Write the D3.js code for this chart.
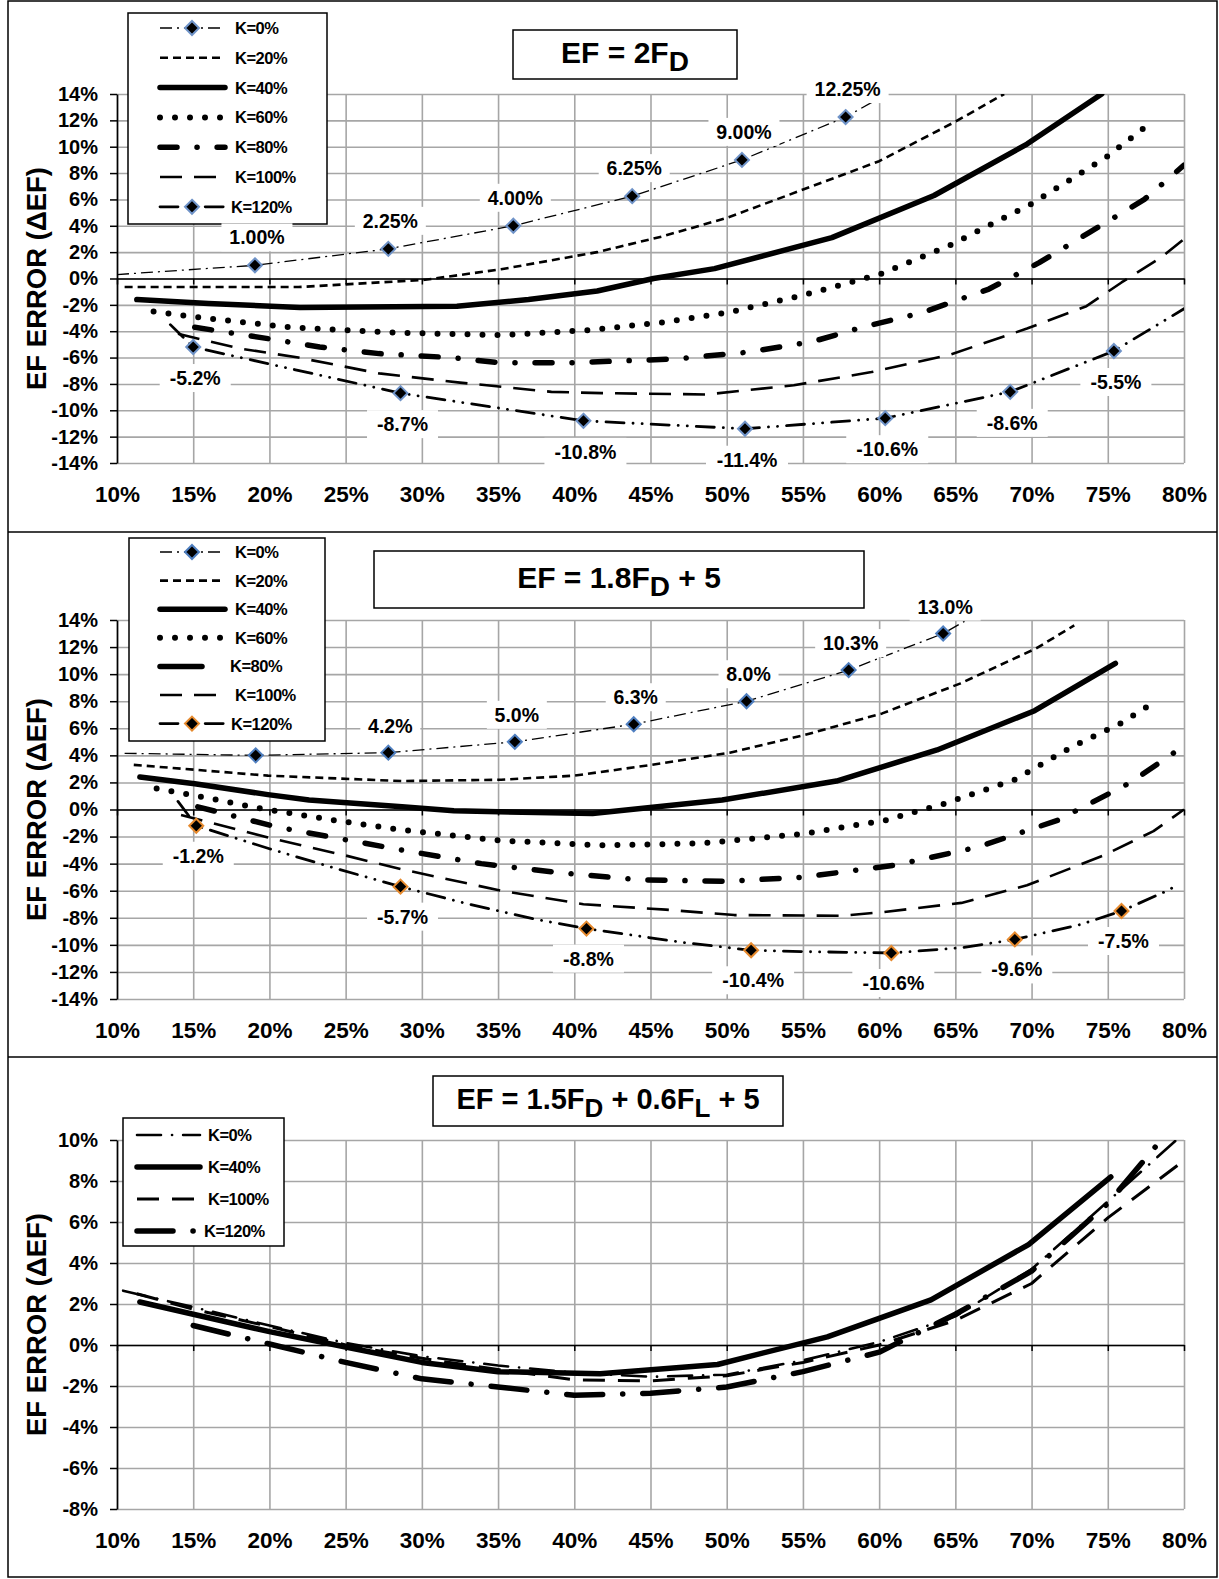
<!DOCTYPE html>
<html><head><meta charset="utf-8">
<script src="https://cdn.jsdelivr.net/npm/d3@7"></script>
<style>body{margin:0;background:#fff}svg{display:block}</style>
</head><body>
<svg id="chart" width="1219" height="1579"></svg>
<script>
// ---------- tick values ----------
const xTickValues = [10,15,20,25,30,35,40,45,50,55,60,65,70,75,80];
const yTicksWide = [-14,-12,-10,-8,-6,-4,-2,0,2,4,6,8,10,12,14];
const yTicksNarrow = [-8,-6,-4,-2,0,2,4,6,8,10];

// ---------- Panel 1: EF = 2FD ----------
const p1K0   = [[10,0.3],[19.05,1.00],[27.8,2.25],[36.0,4.00],[43.8,6.25],[51.0,9.00],[57.8,12.25],[60.5,14.0]];
const p1K0Marks  = [[19.05,1.00],[27.8,2.25],[36.0,4.00],[43.8,6.25],[51.0,9.00],[57.8,12.25]];
const p1K0Labels = ["1.00%","2.25%","4.00%","6.25%","9.00%","12.25%"];
const p1K20  = [[10.5,-0.65],[16,-0.65],[21.9,-0.65],[30.2,-0.1],[35.2,0.7],[41.5,2.0],[45.8,3.2],[50,4.6],[54.9,6.7],[60,8.9],[65,11.9],[68.2,14.0]];
const p1K40  = [[11.3,-1.6],[16,-1.9],[22,-2.2],[32.3,-2.1],[37,-1.6],[41.5,-0.95],[45.2,0],[49.2,0.75],[56.9,3.1],[63.6,6.3],[69.7,10.2],[74.6,14.0]];
const p1K60  = [[12.4,-2.5],[15,-2.9],[21.3,-3.7],[28,-4.1],[35.2,-4.3],[41.2,-3.9],[46,-3.3],[50,-2.6],[54.9,-1.3],[60,0.3],[64.6,2.5],[69.9,5.6],[74.9,9.2],[77.9,11.9]];
const p1K80  = [[15.1,-3.7],[20.1,-4.6],[23.3,-5.2],[27.2,-5.7],[31.9,-6.0],[35.2,-6.4],[39.6,-6.4],[46.7,-6.1],[51.3,-5.6],[55.6,-4.8],[58.9,-3.7],[62.8,-2.6],[67.2,-0.8],[70.5,1.2],[73.8,3.5],[77.4,6.0],[80,8.6]];
const p1K100 = [[14,-4.2],[18,-5.3],[21.9,-6.0],[27.2,-7.2],[32.5,-7.9],[38.5,-8.6],[41.8,-8.7],[48.7,-8.8],[54.4,-8.1],[59.5,-7.1],[64.6,-5.8],[69.7,-3.8],[73.6,-2.1],[75.9,-0.3],[78.5,1.6],[80,3.0]];
const p1K120 = [[13.5,-3.5],[15,-5.2],[28.6,-8.7],[40.6,-10.8],[51.2,-11.4],[60.4,-10.6],[68.6,-8.6],[75.4,-5.5],[80,-2.3]];
const p1K120Marks  = [[15,-5.2],[28.6,-8.7],[40.6,-10.8],[51.2,-11.4],[60.4,-10.6],[68.6,-8.6],[75.4,-5.5]];
const p1K120Labels = ["-5.2%","-8.7%","-10.8%","-11.4%","-10.6%","-8.6%","-5.5%"];

// ---------- Panel 2: EF = 1.8FD + 5 ----------
const p2K0   = [[10.5,4.15],[19.1,4.0],[27.8,4.2],[36.1,5.0],[43.9,6.3],[51.3,8.0],[58.0,10.3],[64.2,13.0],[65.6,13.9]];
const p2K0Marks  = [[19.1,4.0],[27.8,4.2],[36.1,5.0],[43.9,6.3],[51.3,8.0],[58.0,10.3],[64.2,13.0]];
const p2K0Labels = ["","4.2%","5.0%","6.3%","8.0%","10.3%","13.0%"];
const p2K20  = [[11.1,3.3],[19.9,2.5],[28.7,2.1],[35.2,2.2],[40,2.5],[45.1,3.3],[50.2,4.2],[55.1,5.5],[60.2,7.1],[65.3,9.3],[70.3,11.9],[72.8,13.6]];
const p2K40  = [[11.5,2.4],[15.1,1.9],[19.9,1.1],[22.6,0.7],[28.7,0.2],[32.1,-0.1],[41.2,-0.3],[49.7,0.7],[57.2,2.1],[63.8,4.4],[70.2,7.3],[75.5,10.8]];
const p2K60  = [[12.6,1.55],[15.5,0.95],[19.3,0.1],[24.3,-0.8],[28.6,-1.5],[35.2,-2.3],[41.8,-2.65],[48.4,-2.5],[55,-1.8],[60.4,-0.8],[64.2,0.4],[68.9,2.2],[72.6,4.6],[75.9,6.4],[78.3,8.1]];
const p2K80  = [[15.3,0.2],[20.5,-1.3],[28.7,-3.0],[33.9,-4.0],[39.3,-4.7],[44.3,-5.2],[50,-5.3],[55,-5.0],[61.1,-4.1],[66.4,-2.8],[71.7,-0.8],[76.5,2.0],[80,4.7]];
const p2K100 = [[14.2,-0.4],[20,-2.1],[25,-3.4],[28.6,-4.4],[35.2,-6.0],[40.6,-7.0],[46,-7.4],[50.5,-7.8],[57.5,-7.85],[60.1,-7.6],[65.4,-6.9],[69.7,-5.6],[74.7,-3.4],[78,-1.6],[80,0]];
const p2K120 = [[14.0,0.6],[15.2,-1.2],[20,-2.9],[24.5,-4.4],[28.6,-5.7],[33.1,-7.0],[37.4,-8.1],[40.8,-8.8],[47,-9.8],[51.6,-10.4],[55,-10.5],[60.8,-10.6],[65.5,-10.2],[68.9,-9.6],[73.2,-8.5],[75.9,-7.5],[78.9,-6.0],[79.7,-5.5]];
const p2K120Marks  = [[15.2,-1.2],[28.6,-5.7],[40.8,-8.8],[51.6,-10.4],[60.8,-10.6],[68.9,-9.6],[75.9,-7.5]];
const p2K120Labels = ["-1.2%","-5.7%","-8.8%","-10.4%","-10.6%","-9.6%","-7.5%"];

// ---------- Panel 3: EF = 1.5FD + 0.6FL + 5 ----------
const p3K0   = [[10.4,2.65],[15,1.85],[20,0.95],[25,0.1],[30,-0.55],[35,-1.0],[40,-1.35],[45,-1.55],[50,-1.45],[55,-0.75],[60,0.15],[65,1.4],[70,3.7],[75,7.0],[79.5,10.0]];
const p3K40  = [[11.5,2.1],[15,1.5],[20,0.65],[25,-0.1],[30,-0.85],[35,-1.3],[41.7,-1.4],[49.4,-0.95],[56.6,0.4],[63.4,2.2],[69.8,4.9],[75.2,8.2]];
const p3K100 = [[11.3,2.5],[15,1.75],[20,0.9],[25,0.0],[30,-0.65],[35,-1.2],[40,-1.7],[45,-1.75],[50,-1.5],[55,-0.85],[60,0.0],[65,1.2],[70,3.0],[75,6.2],[80,9.0]];
const p3K120 = [[15,0.95],[20,0.05],[25,-0.85],[30,-1.65],[35,-2.05],[40,-2.45],[45,-2.35],[50,-2.05],[55,-1.3],[60,-0.35],[65,1.5],[70,3.6],[75,6.9],[78.5,10.0]];

// ---------- styles ----------
const FONT = "'Liberation Sans', Arial, Helvetica, sans-serif";
const ST = {
  K0:   {w:1.3, dash:"12,5,2,5", cap:"butt"},
  K20:  {w:2.6, dash:"8,5", cap:"butt"},
  K40:  {w:5.5, dash:null, cap:"round"},
  K60:  {w:6,   dash:"0,15", cap:"round"},
  K80:  {w:5.5, dash:"17,20,0.1,20", cap:"round"},
  K100: {w:2.6, dash:"22,12", cap:"butt"},
  K120: {w:2.8, dash:"18,9,0.1,9,0.1,9", cap:"round"},
  C0:   {w:2.6, dash:"24,11,0.1,11", cap:"round"},
  C40:  {w:5.5, dash:null, cap:"round"},
  C100: {w:3,   dash:"22,13", cap:"butt"},
  C120: {w:5.5, dash:"36,20,0.1,20", cap:"round"}
};

const svg = d3.select("#chart");
svg.append("rect").attr("width",1219).attr("height",1579).attr("fill","#fff");

function diamond(g, cx, cy, stroke) {
  const r = 7;
  g.append("path").attr("d", `M${cx},${cy-r}L${cx+r},${cy}L${cx},${cy+r}L${cx-r},${cy}Z`)
    .attr("fill","#000").attr("stroke",stroke).attr("stroke-width",2);
}

function drawPanel(cfg) {
  const x = d3.scaleLinear().domain([10,80]).range([117,1184]);
  const y = d3.scaleLinear().domain(cfg.yDomain).range([cfg.yBottom, cfg.yTop]);
  const g = svg.append("g");
  const W = x(80)-x(10), Hh = y(cfg.yDomain[0]) - y(cfg.yDomain[1]);

  // gridlines
  g.append("g").attr("transform",`translate(0,${y(cfg.yDomain[0])})`)
    .call(d3.axisBottom(x).tickValues(xTickValues).tickSize(-Hh).tickFormat(""))
    .call(a=>a.select(".domain").remove())
    .call(a=>a.selectAll("line").attr("stroke","#a6a6a6").attr("stroke-width",1.6));
  g.append("g").attr("transform",`translate(${x(10)},0)`)
    .call(d3.axisLeft(y).tickValues(cfg.yTicks).tickSize(-W).tickFormat(""))
    .call(a=>a.select(".domain").remove())
    .call(a=>a.selectAll("line").attr("stroke","#a6a6a6").attr("stroke-width",1.6));

  // zero line with ticks
  g.append("g").attr("transform",`translate(0,${y(0)})`)
    .call(d3.axisBottom(x).tickValues(xTickValues).tickSize(6).tickSizeOuter(0).tickFormat(""))
    .call(a=>a.select(".domain").attr("stroke","#000").attr("stroke-width",1.5))
    .call(a=>a.selectAll("line").attr("stroke","#000").attr("stroke-width",1.5));
  // y axis
  g.append("g").attr("transform",`translate(${x(10)},0)`)
    .call(d3.axisLeft(y).tickValues(cfg.yTicks).tickSize(7).tickSizeOuter(0).tickPadding(12).tickFormat(d=>d+"%"))
    .call(a=>a.select(".domain").attr("stroke","#000").attr("stroke-width",1.6))
    .call(a=>a.selectAll("line").attr("stroke","#000").attr("stroke-width",1.5))
    .call(a=>a.selectAll("text").attr("font-family",FONT).attr("font-weight","bold").attr("font-size",20).attr("fill","#000"));
  // x labels
  g.append("g").attr("transform",`translate(0,${y(cfg.yDomain[0])})`)
    .call(d3.axisBottom(x).tickValues(xTickValues).tickSize(0).tickPadding(cfg.xPad).tickFormat(d=>d+"%"))
    .call(a=>a.select(".domain").remove())
    .call(a=>a.selectAll("text").attr("font-family",FONT).attr("font-weight","bold").attr("font-size",22.5).attr("fill","#000"));

  // y title
  g.append("text").attr("transform",`translate(36,${(y(cfg.yDomain[0])+y(cfg.yDomain[1]))/2}) rotate(-90)`)
    .attr("text-anchor","middle").attr("dominant-baseline","central")
    .attr("font-family",FONT).attr("font-weight","bold").attr("font-size",27.5).text("EF ERROR (\u0394EF)");

  // clip
  const cid = "clip"+cfg.id;
  svg.append("clipPath").attr("id",cid).append("rect")
    .attr("x",x(10)).attr("y",y(cfg.yDomain[1])).attr("width",W).attr("height",Hh);
  const line = d3.line().x(d=>x(d[0])).y(d=>y(d[1]));
  const lg = g.append("g").attr("clip-path",`url(#${cid})`);
  cfg.series.forEach(s=>{
    const st = ST[s.style];
    lg.append("path").datum(s.data).attr("d",line).attr("fill","none").attr("stroke","#000")
      .attr("stroke-width",st.w).attr("stroke-dasharray",st.dash).attr("stroke-linecap",st.cap)
      .attr("stroke-linejoin","round");
  });
  // markers
  (cfg.markers||[]).forEach(m=>{
    m.data.forEach(d=>diamond(g, x(d[0]), y(d[1]), m.color));
  });

  // legend
  const L = cfg.legend;
  g.append("rect").attr("x",L.x).attr("y",L.y).attr("width",L.w).attr("height",L.h)
    .attr("fill","#fff").attr("stroke","#000").attr("stroke-width",1.5);
  L.items.forEach((it,i)=>{
    const yy = L.y + L.first + i*L.step;
    const st = ST[it.style];
    const x2 = it.short ? L.sx + 42 : L.sx + L.sw;
    g.append("line").attr("x1",L.sx).attr("x2",x2).attr("y1",yy).attr("y2",yy)
      .attr("stroke","#000").attr("stroke-width",st.w).attr("stroke-dasharray",it.short?null:st.dash)
      .attr("stroke-linecap",st.cap);
    if (it.marker) diamond(g, L.sx+32, yy, it.marker);
    g.append("text").attr("x",L.tx + (it.dx||0)).attr("y",yy).attr("dominant-baseline","central")
      .attr("font-family",FONT).attr("font-weight","bold").attr("font-size",L.fs)
      .attr("letter-spacing",-0.5).text(it.label);
  });

  // data labels
  (cfg.labels||[]).forEach(lb=>{
    lb.pts.forEach((d,i)=>{
      const t = lb.text[i]; if (!t) return;
      const cx = x(d[0]) + 2, cy = y(d[1]) + lb.dy;
      const tw = t.length*11;
      g.append("rect").attr("x",cx-tw/2-8).attr("y",cy-14).attr("width",tw+16).attr("height",28).attr("fill","#fff");
      g.append("text").attr("x",cx).attr("y",cy).attr("text-anchor","middle").attr("dominant-baseline","central")
        .attr("font-family",FONT).attr("font-weight","bold").attr("font-size",19.5).text(t);
    });
  });

  // title box
  const T = cfg.title;
  g.append("rect").attr("x",T.x).attr("y",T.y).attr("width",T.w).attr("height",T.h)
    .attr("fill","#fff").attr("stroke","#000").attr("stroke-width",1.5);
  const tt = g.append("text").attr("x",T.x+T.w/2).attr("y",T.y+T.h/2+8).attr("text-anchor","middle")
    .attr("font-family",FONT).attr("font-weight","bold").attr("font-size",T.fs);
  T.parts.forEach(p=>{
    if (p.sub) tt.append("tspan").attr("dy",8).attr("font-size",T.sfs).text(p.t);
    else tt.append("tspan").attr("dy",p.after?-8:0).text(p.t);
  });
}

const legendItems7 = (c0,c120,k80short) => [
  {style:"K0", label:"K=0%", marker:c0},
  {style:"K20", label:"K=20%"},
  {style:"K40", label:"K=40%"},
  {style:"K60", label:"K=60%"},
  {style:"K80", label:"K=80%", short:k80short, dx:k80short?-5:0},
  {style:"K100", label:"K=100%"},
  {style:"K120", label:"K=120%", marker:c120, dx:-4}
];

drawPanel({
  id:1, yDomain:[-14,14], yTop:94, yBottom:463, yTicks:yTicksWide, xPad:23,
  series:[
    {style:"K0",data:p1K0},{style:"K20",data:p1K20},{style:"K40",data:p1K40},{style:"K60",data:p1K60},
    {style:"K80",data:p1K80},{style:"K100",data:p1K100},{style:"K120",data:p1K120}],
  markers:[{data:p1K0Marks,color:"#6f93c8"},{data:p1K120Marks,color:"#6f93c8"}],
  labels:[{pts:p1K0Marks,text:p1K0Labels,dy:-28},{pts:p1K120Marks,text:p1K120Labels,dy:31}],
  legend:{x:128,y:13,w:199,h:211,first:15,step:29.8,sx:160,sw:65,tx:235,fs:16.5,items:legendItems7("#6f93c8","#6f93c8",false)},
  title:{x:513,y:30,w:224,h:49,fs:30,sfs:28,parts:[{t:"EF = 2F"},{t:"D",sub:true}]}
});

drawPanel({
  id:2, yDomain:[-14,14], yTop:620, yBottom:999, yTicks:yTicksWide, xPad:23,
  series:[
    {style:"K0",data:p2K0},{style:"K20",data:p2K20},{style:"K40",data:p2K40},{style:"K60",data:p2K60},
    {style:"K80",data:p2K80},{style:"K100",data:p2K100},{style:"K120",data:p2K120}],
  markers:[{data:p2K0Marks,color:"#4f7fc0"},{data:p2K120Marks,color:"#e68a2e"}],
  labels:[{pts:p2K0Marks,text:p2K0Labels,dy:-27},{pts:p2K120Marks,text:p2K120Labels,dy:30}],
  legend:{x:129,y:538,w:196,h:203,first:14,step:28.6,sx:160,sw:65,tx:235,fs:16.5,items:legendItems7("#4f7fc0","#e68a2e",true)},
  title:{x:374,y:551,w:490,h:57,fs:30,sfs:28,parts:[{t:"EF = 1.8F"},{t:"D",sub:true},{t:" + 5",after:true}]}
});

drawPanel({
  id:3, yDomain:[-8,10], yTop:1140, yBottom:1509, yTicks:yTicksNarrow, xPad:23,
  series:[{style:"C0",data:p3K0},{style:"C40",data:p3K40},{style:"C100",data:p3K100},{style:"C120",data:p3K120}],
  legend:{x:123,y:1118,w:161,h:128,first:17,step:32,sx:137,sw:63,tx:208,fs:16.5,items:[
    {style:"C0",label:"K=0%"},{style:"C40",label:"K=40%"},{style:"C100",label:"K=100%"},{style:"C120",label:"K=120%",dx:-4}]},
  title:{x:433,y:1076,w:350,h:50,fs:29,sfs:26,parts:[{t:"EF = 1.5F"},{t:"D",sub:true},{t:" + 0.6F",after:true},{t:"L",sub:true},{t:" + 5",after:true}]}
});

// outer frame and separators
svg.append("rect").attr("x",8).attr("y",1).attr("width",1209).attr("height",1576)
  .attr("fill","none").attr("stroke","#000").attr("stroke-width",1.5);
[532,1057].forEach(yy=>svg.append("line").attr("x1",8).attr("x2",1217).attr("y1",yy).attr("y2",yy)
  .attr("stroke","#000").attr("stroke-width",1.5));
</script>
</body></html>
